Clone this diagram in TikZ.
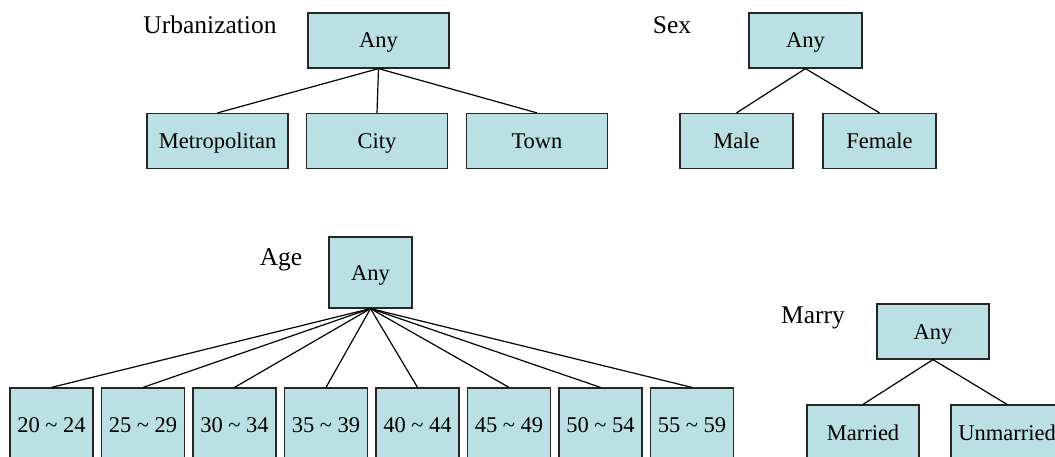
\documentclass[tikz,border=0pt]{standalone}
\usepackage{fontspec}
\setmainfont{Liberation Serif}
\definecolor{boxfill}{HTML}{BBE0E3}

\begin{document}
\begin{tikzpicture}[x=1pt,y=-1pt,
    cat/.style={draw=black!85,fill=boxfill,line width=1.2pt,inner sep=0pt,
      text height=15pt,text depth=0pt,font=\fontsize{22.5}{24}\selectfont},
    wide/.style={cat,minimum width=141pt,minimum height=55pt},
    mid/.style={cat,minimum width=113pt,minimum height=55pt},
    agebox/.style={cat,minimum width=83pt,minimum height=74pt},
    attr/.style={font=\fontsize{25.5}{28}\selectfont}]
  \useasboundingbox (0,0) rectangle (1055,457);
  \clip (0,0) rectangle (1055,457);
  \node[attr] (urblab) at (210,25) {Urbanization};
  \node[wide] (uany) at (378.5,40.5) {Any};
  \node[wide] (umetro) at (217.5,141) {Metropolitan};
  \node[wide] (ucity) at (377,141) {City};
  \node[wide] (utown) at (537,141) {Town};
  \draw [very thick] (uany.south) -- (umetro.north);
  \draw [very thick] (uany.south) -- (ucity.north);
  \draw [very thick] (uany.south) -- (utown.north);
  \node[attr] (sexlab) at (672,25) {Sex};
  \node[mid] (sany) at (805.5,40.5) {Any};
  \node[mid] (smale) at (736.5,141) {Male};
  \node[mid] (sfemale) at (879.5,141) {Female};
  \draw [very thick] (sany.south) -- (smale.north);
  \draw [very thick] (sany.south) -- (sfemale.north);
  \node[attr] (agelab) at (281,260) {Age};
  \node[cat,minimum width=83pt,minimum height=71pt] (aany) at (370.5,272.5) {Any};
  \node[agebox] (a20) at (51.5,425) {20 \textasciitilde{} 24};
  \node[agebox] (a25) at (143,425) {25 \textasciitilde{} 29};
  \node[agebox] (a30) at (234.5,425) {30 \textasciitilde{} 34};
  \node[agebox] (a35) at (326,425) {35 \textasciitilde{} 39};
  \node[agebox] (a40) at (417.5,425) {40 \textasciitilde{} 44};
  \node[agebox] (a45) at (509,425) {45 \textasciitilde{} 49};
  \node[agebox] (a50) at (600.5,425) {50 \textasciitilde{} 54};
  \node[agebox] (a55) at (692,425) {55 \textasciitilde{} 59};
  \draw [very thick] (aany.south) -- (a20.north);
  \draw [very thick] (aany.south) -- (a25.north);
  \draw [very thick] (aany.south) -- (a30.north);
  \draw [very thick] (aany.south) -- (a35.north);
  \draw [very thick] (aany.south) -- (a40.north);
  \draw [very thick] (aany.south) -- (a45.north);
  \draw [very thick] (aany.south) -- (a50.north);
  \draw [very thick] (aany.south) -- (a55.north);
  \node[attr] (marlab) at (813,318) {Marry};
  \node[cat,minimum width=112pt,minimum height=55pt] (many) at (933,331.5) {Any};
  \node[cat,minimum width=112pt,minimum height=56pt] (mmarried) at (863,433) {Married};
  \node[cat,minimum width=112pt,minimum height=56pt] (munmarried) at (1007,433) {Unmarried};
  \draw [very thick] (many.south) -- (mmarried.north);
  \draw [very thick] (many.south) -- (munmarried.north);
\end{tikzpicture}
\end{document}
